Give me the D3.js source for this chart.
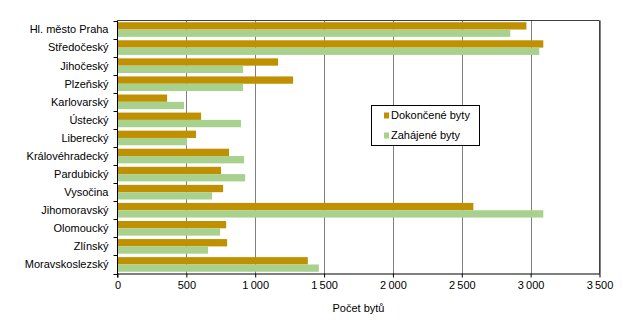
<!DOCTYPE html>
<html><head><meta charset="utf-8">
<script src="https://cdn.jsdelivr.net/npm/d3@7"></script>
<style>body{margin:0;background:#fff}svg{display:block}text{font-family:"Liberation Sans",Arial,sans-serif}</style>
</head><body><svg id="c" width="623" height="323"></svg>
<script>
const categories = ["Hl. město Praha","Středočeský","Jihočeský","Plzeňský","Karlovarský","Ústecký","Liberecký","Královéhradecký","Pardubický","Vysočina","Jihomoravský","Olomoucký","Zlínský","Moravskoslezský"];
const dokoncene = [2969,3092,1166,1275,360,607,570,810,752,767,2584,789,796,1382];
const zahajene  = [2852,3063,912,912,483,897,505,919,927,687,3092,745,658,1462];
const seriesNames = ["Dokončené byty","Zahájené byty"];
const colors = ["#BF9000","#A9D18E"];
const xTicks = [0,500,1000,1500,2000,2500,3000,3500];

const svg = d3.select("#c");
const L=117.5, R=599.5, T=20.5, B=273.5;
const x = d3.scaleLinear().domain([0,3500]).range([L,R]);
const y = d3.scaleBand().domain(categories).range([T,B]).paddingInner(0.19).paddingOuter(0.095);
const ys = d3.scaleBand().domain([0,1]).range([0,y.bandwidth()]);
const fmt = v => d3.format(",")(v).replace(/,/g,"\u2009");

// gridlines
svg.append("g").selectAll("line").data(xTicks.slice(1)).join("line")
  .attr("x1",d=>Math.round(x(d))+0.5).attr("x2",d=>Math.round(x(d))+0.5)
  .attr("y1",T).attr("y2",B).attr("stroke","#808080").attr("stroke-width",1);

// bars
const data=[dokoncene,zahajene];
data.forEach((arr,si)=>{
  svg.append("g").selectAll("rect").data(arr).join("rect")
    .attr("x",x(0)).attr("y",(d,i)=>y(categories[i])+ys(si))
    .attr("width",d=>x(d)-x(0)).attr("height",ys.bandwidth())
    .attr("fill",colors[si]);
});

// frame top/right
svg.append("path").attr("d",`M${L},${T}H${R}V${B}`).attr("fill","none").attr("stroke","#404040").attr("stroke-width",1);

// bottom axis
const xa = svg.append("g").attr("transform",`translate(0,${B})`)
  .call(d3.axisBottom(x).tickValues(xTicks).tickFormat(fmt).tickSize(4).tickSizeOuter(0));
xa.select(".domain").attr("stroke","#000");
xa.selectAll("text").attr("font-size","11px").attr("fill","#000").attr("dy","0.71em").attr("y",8);

// left axis
const la = svg.append("g").attr("transform",`translate(${L},0)`);
la.append("line").attr("x1",0).attr("x2",0).attr("y1",T).attr("y2",B+4).attr("stroke","#000");
const step = y.step();
const bounds = d3.range(categories.length+1).map(i=>T + i*(B-T)/categories.length);
la.selectAll("line.t").data(bounds).join("line").attr("class","t")
  .attr("x1",-4).attr("x2",0).attr("y1",d=>Math.round(d)+0.5).attr("y2",d=>Math.round(d)+0.5).attr("stroke","#000");
la.selectAll("text").data(categories).join("text")
  .attr("x",-9).attr("y",(d,i)=>(bounds[i]+bounds[i+1])/2).attr("dy","0.35em")
  .attr("text-anchor","end").attr("font-size","11px").attr("fill","#000").text(d=>d);

// axis title
svg.append("text").attr("x",358.5).attr("y",308).attr("dy","0.35em").attr("text-anchor","middle")
  .attr("font-size","11px").attr("fill","#000").text("Počet bytů");

// legend
const lg = svg.append("g");
lg.append("rect").attr("x",371.5).attr("y",105.5).attr("width",108).attr("height",40)
  .attr("fill","#fff").attr("stroke","#000").attr("stroke-width",1);
seriesNames.forEach((n,i)=>{
  const cy = 115.5 + i*20;
  lg.append("rect").attr("x",384).attr("y",cy-3).attr("width",5).attr("height",6).attr("fill",colors[i]);
  lg.append("text").attr("x",391).attr("y",cy).attr("dy","0.35em").attr("font-size","11px").attr("fill","#000").text(n);
});
</script></body></html>
